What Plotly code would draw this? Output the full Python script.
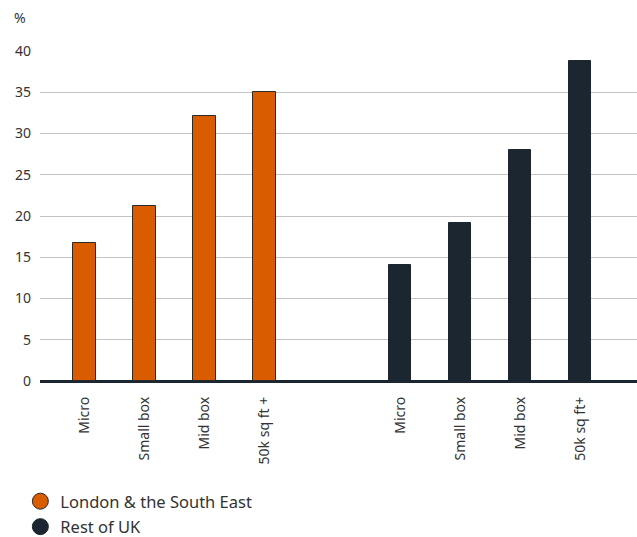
import plotly.graph_objects as go

categories_lse = ["Micro", "Small box", "Mid box", "50k sq ft +"]
categories_rest = ["Micro", "Small box", "Mid box", "50k sq ft+"]
values_lse = [16.7, 21.2, 32.1, 35.0]
values_rest = [14.1, 19.1, 28.0, 38.8]
series_names = ["London & the South East", "Rest of UK"]
y_ticks = [0, 5, 10, 15, 20, 25, 30, 35, 40]

ORANGE = "#D95D00"
DARK = "#1C2630"
FONT = "Noto Sans, Open Sans, sans-serif"

group_offset = 5.263
x_lse = list(range(len(categories_lse)))
x_rest = [i + group_offset for i in range(len(categories_rest))]

fig = go.Figure()
fig.add_trace(go.Bar(x=x_lse, y=values_lse, width=0.37, marker=dict(color=ORANGE, line=dict(color="#2a2a2a", width=1)),
                     showlegend=False, hoverinfo="y"))
fig.add_trace(go.Bar(x=x_rest, y=values_rest, width=0.37, marker=dict(color=DARK, line=dict(color=DARK, width=1)),
                     showlegend=False, hoverinfo="y"))
# legend entries as circles
fig.add_trace(go.Scatter(x=[None], y=[None], mode="markers", name=series_names[0], legendgroup="a",
                         marker=dict(symbol="circle", size=16, color=ORANGE, line=dict(color="#2a2a2a", width=1))))
fig.add_trace(go.Scatter(x=[None], y=[None], mode="markers", name=series_names[1], legendgroup="b",
                         marker=dict(symbol="circle", size=16, color=DARK, line=dict(color=DARK, width=1))))

fig.update_layout(
    width=637, height=537,
    margin=dict(l=40, r=0, t=51, b=156, autoexpand=False),
    paper_bgcolor="white", plot_bgcolor="white",
    font=dict(family=FONT, color="#333333", size=14),
    bargap=0,
    legend=dict(orientation="v", x=-0.0329, xanchor="left", y=-0.312, yanchor="top",
                font=dict(size=16.5, color="#333333"), tracegroupgap=1, itemwidth=30),
    showlegend=True,
)
fig.update_xaxes(
    range=[-0.742, 9.208],
    tickvals=x_lse + x_rest,
    ticktext=categories_lse + categories_rest,
    tickangle=-90, showgrid=False, zeroline=False, showline=False, ticks="",
    ticklabelstandoff=12,
    tickfont=dict(size=14, color="#333333"), automargin=False,
    fixedrange=True,
)
fig.update_yaxes(
    range=[0, 40], tickvals=y_ticks, showgrid=True, gridcolor="#c4c4c4", gridwidth=1,
    zeroline=True, zerolinecolor="#1C2630", zerolinewidth=2.5,
    showline=False, ticks="", ticklabelstandoff=8,
    tickfont=dict(size=14, color="#333333"), automargin=False,
    fixedrange=True,
)
fig.add_annotation(text="%", xref="paper", yref="paper", x=(12 - 40) / 597, y=(381 - 18) / 330,
                   xanchor="left", yanchor="middle", showarrow=False, font=dict(size=14, color="#333333"))

fig.write_html("out.html", config={"displayModeBar": False},
               post_script="document.body.style.margin='0';document.body.style.overflow='hidden';")
